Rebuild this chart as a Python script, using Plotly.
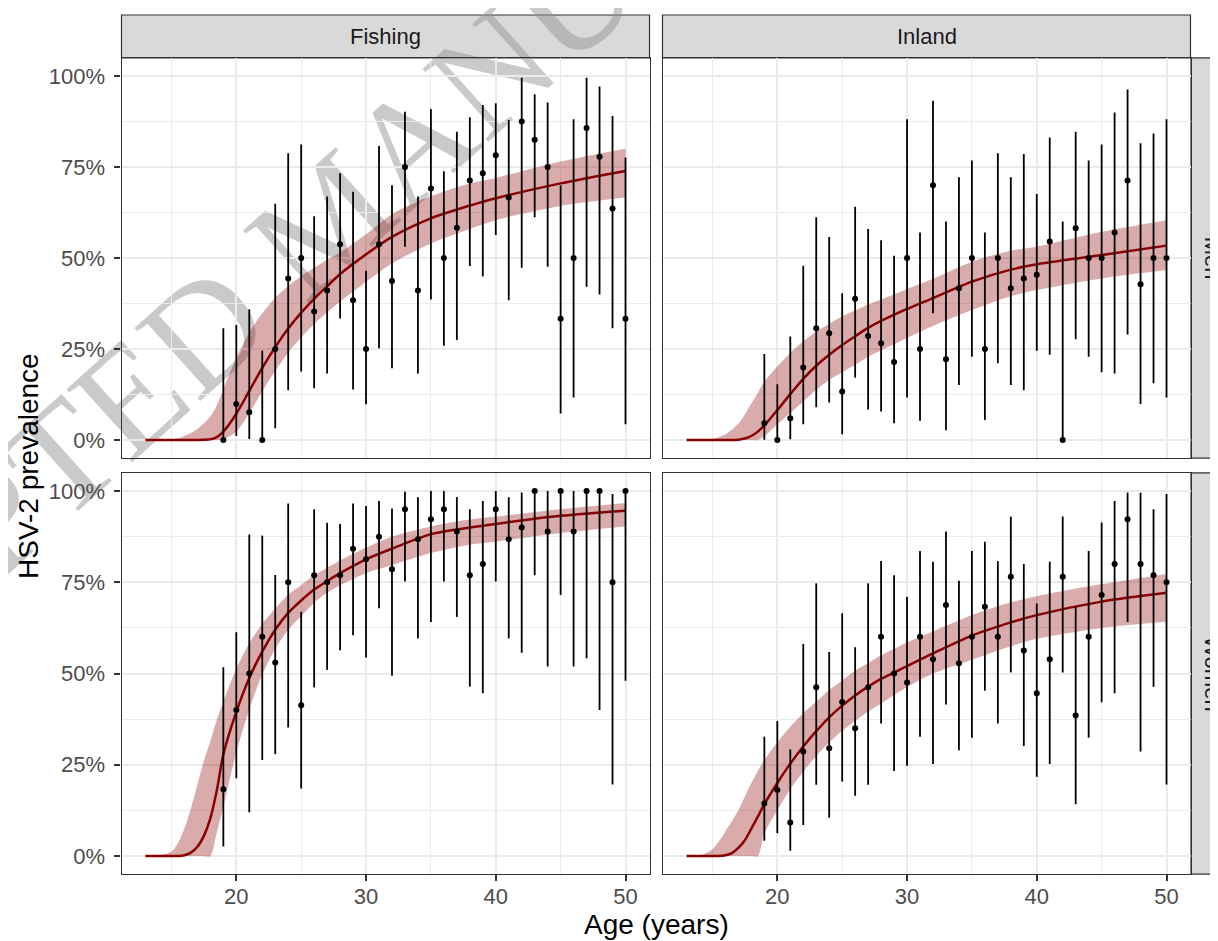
import plotly.graph_objects as go

# ---------------- data ----------------
AGES = list(range(19, 51))

# Fishing / Men
FM_PREV = [0, 9.9, 7.6, 0, 25, 44.4, 50, 35.3, 41.1, 53.8, 38.4, 25, 53.8, 43.7, 75, 41.1,
           69.1, 50, 58.3, 71.3, 73.3, 78.2, 66.6, 87.5, 82.5, 75, 33.3, 50, 85.7, 77.8, 63.6, 33.3]
FM_LOW = [0, 1.1, 0.3, 0, 3.2, 13.7, 18.8, 14.2, 18.3, 33.4, 13.9, 9.8, 25.2, 19.7, 53.1, 18.3,
          38.6, 25.9, 27.5, 47.8, 44.9, 56.3, 38.4, 47.3, 61.2, 47.6, 7.3, 11.7, 42.1, 40, 30.7, 4.3]
FM_UPP = [30.7, 31.6, 35.9, 24.5, 64.9, 78.8, 81.2, 61.5, 66.9, 73.3, 68.2, 46.5, 80.8, 70, 90.2, 66.9,
          90.9, 73.8, 84.7, 88.7, 92, 92.5, 87.9, 99.5, 95, 92.7, 69.9, 88.1, 99.5, 97.1, 89, 77.6]

# Inland / Men
IM_PREV = [4.6, 0, 6, 19.9, 30.7, 29.3, 13.3, 38.8, 28.6, 26.6, 21.4, 50, 25, 70, 22.2, 41.7,
           50, 25, 50, 41.7, 44.4, 45.4, 54.5, 0, 58.2, 50, 50, 57, 71.3, 42.8, 50, 50]
IM_LOW = [0.1, 0, 0.2, 4.3, 9, 10.3, 1.6, 17.1, 8.4, 7.8, 4.6, 11.7, 5.3, 34.8, 2.7, 15.1,
          22.9, 5.5, 21.1, 15.1, 13.7, 24.5, 23.4, 0, 27.7, 22.9, 18.6, 18.3, 29, 9.9, 15.6, 11.7]
IM_UPP = [23.6, 15.3, 28.4, 47.9, 61.2, 55.8, 40.3, 64.1, 58, 54.9, 50.6, 88.1, 57, 93.2, 60, 72.2,
          76.8, 57, 78.8, 72.2, 78.6, 67.6, 83.1, 60, 84.7, 76.8, 81.2, 90, 96.3, 81.5, 84.2, 88.1]

# Fishing / Women
FW_PREV = [18.3, 40, 50, 60.1, 53, 75, 41.3, 76.9, 75, 76.9, 84.2, 81.3, 87.5, 78.6, 95, 86.8,
           92.3, 95, 88.9, 76.9, 80, 95, 86.8, 90, 100, 88.9, 100, 88.9, 100, 100, 75, 100]
FW_LOW = [2.6, 21.3, 12, 26.3, 27.9, 35.2, 18.5, 46.2, 51, 56.4, 60.5, 54.4, 67.9, 49.4, 75.2, 59.6,
          64.1, 75.2, 65.5, 46.4, 44.6, 75.2, 59.6, 55.7, 76.9, 51.9, 71.5, 51.9, 54.2, 40, 19.6, 48]
FW_UPP = [51.7, 61.3, 88.1, 87.8, 77, 96.6, 66.9, 95, 91.3, 91, 96.6, 95.9, 97.3, 95.2, 99.8, 98.3,
          100, 100, 98.4, 95, 97.3, 100, 98.3, 99.6, 100, 100, 100, 100, 100, 100, 99.2, 100]

# Inland / Women
IW_PREV = [14.4, 18.1, 9.2, 28.6, 46.2, 29.5, 42.2, 35, 46.2, 60.1, 50, 47.5, 60.1, 53.9, 68.8, 52.8,
           60.1, 68.3, 60.1, 76.5, 56.3, 44.6, 53.9, 76.5, 38.5, 60.1, 71.5, 80, 92.3, 80, 76.9, 75]
IW_LOW = [4.2, 6.2, 1.4, 8.5, 19.5, 10.5, 20.4, 16.5, 19.5, 36.3, 23.3, 24.7, 32.7, 25.2, 41.5, 29,
          32.4, 45.3, 36.3, 50.3, 30.1, 21.7, 25.2, 50.3, 14.2, 32.4, 42.1, 44.6, 64.1, 28.6, 46.4, 19.6]
IW_UPP = [32.7, 37, 29.2, 58.1, 74.7, 55.9, 66.5, 57.2, 74.7, 80.8, 76.9, 71, 83.6, 80.6, 88.9, 75.4,
          83.6, 86.1, 80.8, 93, 80, 69.2, 80.6, 93, 68.3, 83.6, 91.4, 97.3, 99.6, 99.5, 95, 99.2]

# fitted model curves
CURVE_AGE = [13, 14, 15, 15.5, 16, 16.5, 17, 17.5, 18, 18.5, 19, 20, 21, 22, 23, 24, 25, 26, 27, 28,
             30, 32, 35, 38, 40, 45, 50]
FM_FIT = [0, 0, 0, 0, 0, 0, 0, 0.05, 0.2, 0.8, 2.3, 7.2, 13.5, 19.8, 25.5, 30.6, 35, 38.8, 42.2, 45.6,
          51, 55.8, 60.9, 64.4, 66.4, 70.5, 73.9]
FM_FIT_LO = [0, 0, 0, 0, 0, 0, 0, 0, 0, 0, 0.2, 2.3, 7.4, 13.3, 19, 24, 28.2, 31.9, 35.1, 38,
             43.5, 48.5, 54, 58, 60.4, 64.3, 66.6]
FM_FIT_HI = [0, 0, 0.2, 0.5, 1.1, 1.9, 3, 4.5, 6.5, 9.5, 14, 22.5, 29.5, 34.8, 39, 42.3, 45, 47.3, 49.5, 51.5,
             56.5, 62, 67, 70.5, 72, 76.5, 80]

IM_FIT = [0, 0, 0, 0, 0, 0, 0.1, 0.4, 1.1, 2.3, 4, 8.2, 12.6, 16.8, 20.4, 23.4, 26.1, 28.5, 30.8, 32.7,
          36, 39, 43.5, 46.8, 48.3, 50.8, 53.4]
IM_FIT_LO = [0, 0, 0, 0, 0, 0, 0, 0, 0, 0, 1, 4.3, 7.4, 10.6, 13.8, 16.5, 18.6, 20.7, 22.9, 24.6,
             28, 31.3, 35.7, 39.5, 41.2, 44.4, 46.7]
IM_FIT_HI = [0, 0, 0.3, 0.8, 1.6, 2.8, 4.5, 7, 10, 13, 16, 20.2, 23.9, 27.1, 29.8, 31.9, 34, 35.6, 37.2, 38.6,
             41.5, 44.3, 49, 52, 53.1, 57.2, 60.4]

FW_FIT = [0, 0, 0, 0, 0.2, 0.9, 2.5, 5.5, 10.3, 18, 27.8, 39.5, 48.8, 56, 62, 66.6, 70, 73, 75.3, 77.5,
          81.3, 84.2, 88.2, 90, 91, 93.2, 94.6]
FW_FIT_LO = [0, 0, 0, 0, 0, 0, 0, 0, 0, 6.5, 13.5, 28.4, 40.1, 49.7, 56.7, 62, 65.7, 69.4, 72.1, 74.2,
             77.5, 79.7, 83, 85.3, 86.1, 88.5, 90.3]
FW_FIT_HI = [0, 0.1, 1.2, 3.5, 7.5, 13, 19.5, 26, 31.5, 37.3, 42.3, 51.3, 58.3, 63.6, 67.8, 71.6, 74.2, 76.9, 79, 81,
             84.5, 87.5, 90.3, 92.2, 93, 95, 96.7]

IW_FIT = [0, 0, 0, 0, 0.2, 0.8, 2.2, 4.3, 7.5, 10.8, 14.2, 20, 25.3, 30, 34.2, 38, 41.2, 44, 46.4, 48.5,
          52, 55.5, 60.4, 64, 66, 69.7, 72.1]
IW_FIT_LO = [0, 0, 0, 0, 0, 0, 0, 0, 0, 0, 6.1, 12.5, 18.3, 23.1, 27.4, 31.1, 34.3, 37, 39.6, 41.8,
             46.3, 50, 53.8, 57.5, 59.5, 62.5, 64.2]
IW_FIT_HI = [0, 0.1, 1.8, 4, 6.8, 9.5, 12.5, 16.3, 20, 23.3, 26.3, 31.1, 35.4, 39.1, 42.3, 45.5, 48.1, 50.8, 52.9, 55,
             58.5, 61.5, 66, 69.5, 71.2, 74.5, 77.3]

COLS = ["Fishing", "Inland"]
ROWS = ["Men", "Women"]
X_TICKS = [20, 30, 40, 50]
X_MINOR = [15, 25, 35, 45]
Y_TICKS = [0, 25, 50, 75, 100]
Y_TICK_LABELS = ["0%", "25%", "50%", "75%", "100%"]
Y_MINOR = [12.5, 37.5, 62.5, 87.5]
X_TITLE = "Age (years)"
Y_TITLE = "HSV-2 prevalence"
WATERMARK = "ACCEPTED MANUSCRIPT"

# ---------------- layout geometry (screen pixels) ----------------
W, H = 1218, 941
OFF = 8  # page body margin of the html page


def fx(x):
    return (x - OFF) / W


def fy(y):
    return 1 - (y - OFF) / H


COL_X = [(121.5, 649.5), (662.5, 1190.5)]
ROW_Y = [(57.8, 458.2), (472.8, 874.2)]
STRIP_TOP = 15
STRIP_RIGHT = 1234

panels = [
    (0, 0, FM_PREV, FM_LOW, FM_UPP, FM_FIT, FM_FIT_LO, FM_FIT_HI),
    (0, 1, IM_PREV, IM_LOW, IM_UPP, IM_FIT, IM_FIT_LO, IM_FIT_HI),
    (1, 0, FW_PREV, FW_LOW, FW_UPP, FW_FIT, FW_FIT_LO, FW_FIT_HI),
    (1, 1, IW_PREV, IW_LOW, IW_UPP, IW_FIT, IW_FIT_LO, IW_FIT_HI),
]

FONT = "Liberation Sans"
DARKRED = "#8B0000"
fig = go.Figure()
layout = {}

for i, (r, c, prev, lo, up, fit, fit_lo, fit_hi) in enumerate(panels):
    n = i + 1
    xa = "x" if n == 1 else f"x{n}"
    ya = "y" if n == 1 else f"y{n}"
    # ribbon
    fig.add_trace(go.Scatter(x=CURVE_AGE, y=fit_lo, mode="lines", xaxis=xa, yaxis=ya,
                             line=dict(width=0, shape="spline", smoothing=0.8),
                             hoverinfo="skip", showlegend=False))
    fig.add_trace(go.Scatter(x=CURVE_AGE, y=fit_hi, mode="lines", xaxis=xa, yaxis=ya,
                             line=dict(width=0, shape="spline", smoothing=0.8),
                             fill="tonexty", fillcolor="rgba(139,0,0,0.33)",
                             hoverinfo="skip", showlegend=False))
    # fitted line
    fig.add_trace(go.Scatter(x=CURVE_AGE, y=fit, mode="lines", xaxis=xa, yaxis=ya,
                             line=dict(width=2.5, color=DARKRED, shape="spline", smoothing=0.8),
                             showlegend=False))
    # observed points with intervals
    fig.add_trace(go.Scatter(
        x=AGES, y=prev, mode="markers", xaxis=xa, yaxis=ya,
        marker=dict(size=6, color="black"),
        error_y=dict(type="data", symmetric=False,
                     array=[u - p for u, p in zip(up, prev)],
                     arrayminus=[p - l for p, l in zip(prev, lo)],
                     color="black", thickness=1.8, width=0),
        showlegend=False))

    x0, x1 = COL_X[c]
    y0, y1 = ROW_Y[r]
    xkey = "xaxis" if n == 1 else f"xaxis{n}"
    ykey = "yaxis" if n == 1 else f"yaxis{n}"
    bottom = r == 1
    left = c == 0
    layout[xkey] = dict(
        domain=[fx(x0), fx(x1)], anchor=ya, range=[11.15, 51.85],
        tickmode="array", tickvals=X_TICKS, ticktext=[str(t) for t in X_TICKS],
        showticklabels=bottom, ticks="outside" if bottom else "",
        ticklen=6, tickwidth=1.8, tickcolor="#333333", ticklabelstandoff=-4,
        tickfont=dict(family=FONT, size=22, color="#4D4D4D"),
        showgrid=True, gridcolor="#EBEBEB", gridwidth=2,
        minor=dict(tickvals=X_MINOR, showgrid=True, gridcolor="#EBEBEB", gridwidth=1),
        zeroline=False, showline=True, mirror=True, linecolor="#333333", linewidth=1.2,
        fixedrange=True,
    )
    layout[ykey] = dict(
        domain=[fy(y1), fy(y0)], anchor=xa, range=[-5, 105],
        tickmode="array", tickvals=Y_TICKS, ticktext=Y_TICK_LABELS,
        showticklabels=left, ticks="outside" if left else "",
        ticklen=6, tickwidth=1.8, tickcolor="#333333", ticklabelstandoff=5,
        tickfont=dict(family=FONT, size=22, color="#4D4D4D"),
        showgrid=True, gridcolor="#EBEBEB", gridwidth=2,
        minor=dict(tickvals=Y_MINOR, showgrid=True, gridcolor="#EBEBEB", gridwidth=1),
        zeroline=False, showline=True, mirror=True, linecolor="#333333", linewidth=1.2,
        fixedrange=True,
    )

shapes = []
annotations = []
# strips
for c, lab in enumerate(COLS):
    x0, x1 = COL_X[c]
    shapes.append(dict(type="rect", xref="paper", yref="paper", layer="below",
                       x0=fx(x0), x1=fx(x1), y0=fy(ROW_Y[0][0]), y1=fy(STRIP_TOP),
                       fillcolor="#D9D9D9", line=dict(color="#333333", width=1.2)))
    annotations.append(dict(text=lab, xref="paper", yref="paper", x=fx((x0 + x1) / 2),
                            y=fy((STRIP_TOP + ROW_Y[0][0]) / 2), showarrow=False,
                            xanchor="center", yanchor="middle",
                            font=dict(family=FONT, size=22, color="#1A1A1A")))
for r, lab in enumerate(ROWS):
    y0, y1 = ROW_Y[r]
    shapes.append(dict(type="rect", xref="paper", yref="paper", layer="below",
                       x0=fx(COL_X[1][1] + 0.5), x1=fx(STRIP_RIGHT), y0=fy(y1), y1=fy(y0),
                       fillcolor="#D9D9D9", line=dict(color="#333333", width=1.2)))
    annotations.append(dict(text=lab, xref="paper", yref="paper",
                            x=fx((COL_X[1][1] + STRIP_RIGHT) / 2), y=fy((y0 + y1) / 2),
                            showarrow=False, xanchor="center", yanchor="middle", textangle=90,
                            font=dict(family=FONT, size=22, color="#1A1A1A")))

# watermark (below the data)
WM_X, WM_Y = 318, 205
shapes.append(dict(type="rect", xref="paper", yref="paper", layer="below",
                   x0=fx(WM_X - 2), x1=fx(WM_X + 2), y0=fy(WM_Y + 2), y1=fy(WM_Y - 2),
                   line=dict(width=0), fillcolor="rgba(0,0,0,0)",
                   label=dict(text=WATERMARK, textangle=-42, textposition="middle center",
                              font=dict(family="Liberation Serif", size=150,
                                        color="rgba(150,150,150,0.5)"))))

# axis titles
annotations.append(dict(text=X_TITLE, xref="paper", yref="paper",
                        x=fx((COL_X[0][0] + COL_X[1][1]) / 2), y=fy(924),
                        showarrow=False, xanchor="center", yanchor="middle",
                        font=dict(family=FONT, size=28, color="black")))
annotations.append(dict(text=Y_TITLE, xref="paper", yref="paper",
                        x=fx(28), y=fy((ROW_Y[0][0] + ROW_Y[1][1]) / 2),
                        showarrow=False, xanchor="center", yanchor="middle", textangle=-90,
                        font=dict(family=FONT, size=28, color="black")))

fig.update_layout(
    width=W, height=H, margin=dict(l=0, r=0, t=0, b=0),
    paper_bgcolor="white", plot_bgcolor="white",
    showlegend=False, shapes=shapes, annotations=annotations,
    **layout,
)

fig.write_html("out.html")
